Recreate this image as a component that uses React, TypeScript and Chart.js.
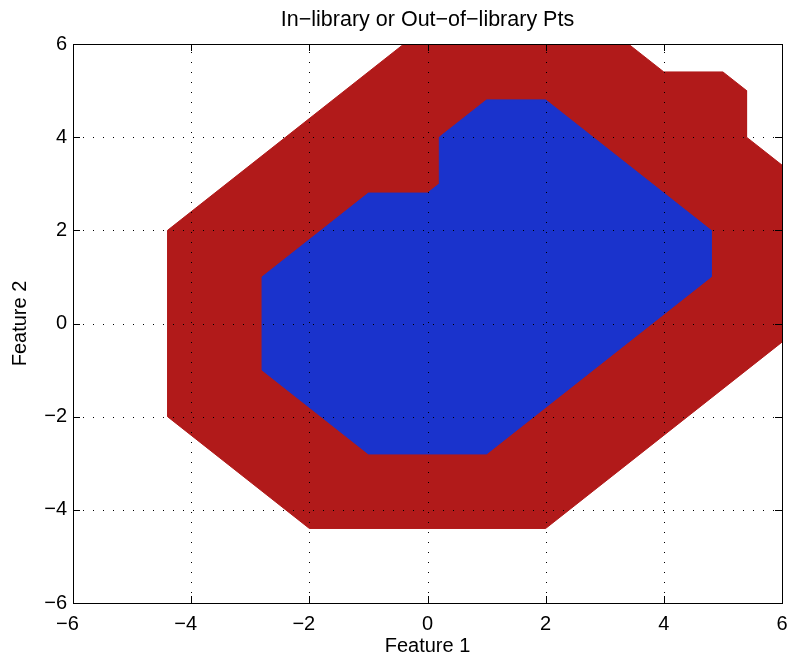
import React, { useEffect, useRef } from 'react';
import { Chart, registerables } from 'chart.js';

Chart.register(...registerables);

const chartTitle = 'In\u2212library or Out\u2212of\u2212library Pts';
const xLabel = 'Feature 1';
const yLabel = 'Feature 2';
const axisMin = -6;
const axisMax = 6;
const tickStep = 2;

// Out-of-library region (red) polygon vertices
const outOfLibraryX = [-4.4, -0.4, 3.4, 4.0, 5.0, 5.4, 5.4, 6.0, 6.0, 2.0, -2.0, -4.4];
const outOfLibraryY = [2.0, 6.0, 6.0, 5.4, 5.4, 5.0, 4.0, 3.4, -0.4, -4.4, -4.4, -2.0];

// In-library region (blue) polygon vertices
const inLibraryX = [-2.8, -1.0, 0.0, 0.2, 0.2, 1.0, 2.0, 4.8, 4.8, 1.0, -1.0, -2.8];
const inLibraryY = [1.0, 2.8, 2.8, 3.0, 4.0, 4.8, 4.8, 2.0, 1.0, -2.8, -2.8, -1.0];

const RED = '#B11A1A';
const BLUE = '#1A33CC';
const FONT = "'Liberation Sans', Arial, Helvetica, sans-serif";

function toPoints(xs: number[], ys: number[]) {
  const pts = xs.map((x, i) => ({ x, y: ys[i] }));
  pts.push({ x: xs[0], y: ys[0] });
  return pts;
}

function fmtY(v: number | string) {
  const n = Number(v);
  return n < 0 ? '\u2212' + Math.abs(n) : String(n);
}

// MATLAB centres the digits under the tick and lets the minus sign hang left
function fmtX(v: number | string) {
  const n = Number(v);
  return n < 0 ? '\u2212' + Math.abs(n) + '  ' : String(n);
}

const boxPlugin = {
  id: 'matlabBox',
  afterDraw(chart: any) {
    const { ctx, chartArea } = chart;
    const left = Math.round(chartArea.left);
    const right = Math.round(chartArea.right);
    const top = Math.round(chartArea.top);
    const bottom = Math.round(chartArea.bottom);
    const xs = chart.scales.x;
    const ys = chart.scales.y;
    const tl = 7;
    ctx.save();
    // dotted grid over the filled regions
    ctx.strokeStyle = '#000';
    ctx.lineWidth = 1;
    ctx.lineCap = 'butt';
    ctx.setLineDash([1, 9]);
    ctx.lineDashOffset = 0;
    xs.ticks.forEach((t: any) => {
      const p = Math.round(xs.getPixelForValue(t.value)) + 0.5;
      if (p <= left + 1 || p >= right - 1) return;
      ctx.beginPath();
      ctx.moveTo(p, bottom);
      ctx.lineTo(p, top);
      ctx.stroke();
    });
    ys.ticks.forEach((t: any) => {
      const p = Math.round(ys.getPixelForValue(t.value)) + 0.5;
      if (p <= top + 1 || p >= bottom - 1) return;
      ctx.beginPath();
      ctx.moveTo(left, p);
      ctx.lineTo(right, p);
      ctx.stroke();
    });
    ctx.setLineDash([]);
    // inward tick marks on all four sides
    ctx.beginPath();
    xs.ticks.forEach((t: any) => {
      const p = Math.round(xs.getPixelForValue(t.value)) + 0.5;
      ctx.moveTo(p, bottom);
      ctx.lineTo(p, bottom - tl);
      ctx.moveTo(p, top);
      ctx.lineTo(p, top + tl);
    });
    ys.ticks.forEach((t: any) => {
      const p = Math.round(ys.getPixelForValue(t.value)) + 0.5;
      ctx.moveTo(left, p);
      ctx.lineTo(left + tl, p);
      ctx.moveTo(right, p);
      ctx.lineTo(right - tl, p);
    });
    ctx.stroke();
    ctx.strokeRect(left + 0.5, top + 0.5, right - left, bottom - top);
    // title centred over the plot area
    ctx.fillStyle = '#000';
    ctx.font = `normal 21.5px ${FONT}`;
    ctx.textAlign = 'center';
    ctx.textBaseline = 'middle';
    ctx.fillText(chartTitle, (chartArea.left + chartArea.right) / 2, 20);
    ctx.restore();
  },
};

export default function App() {
  const ref = useRef<HTMLCanvasElement | null>(null);
  useEffect(() => {
    if (!ref.current) return;
    const chart = new Chart(ref.current, {
      type: 'scatter',
      data: {
        datasets: [
          {
            label: 'In-library',
            data: toPoints(inLibraryX, inLibraryY),
            showLine: true,
            fill: 'shape',
            backgroundColor: BLUE,
            borderColor: BLUE,
            borderWidth: 1,
            pointRadius: 0,
            order: 0,
          },
          {
            label: 'Out-of-library',
            data: toPoints(outOfLibraryX, outOfLibraryY),
            showLine: true,
            fill: 'shape',
            backgroundColor: RED,
            borderColor: RED,
            borderWidth: 1,
            pointRadius: 0,
            order: 1,
          },
        ],
      },
      options: {
        animation: false,
        responsive: true,
        maintainAspectRatio: false,
        layout: { padding: { left: 0, right: 6, top: 44, bottom: 0 } },
        plugins: {
          legend: { display: false },
          tooltip: { enabled: false },
          title: { display: false },
        },
        scales: {
          x: {
            type: 'linear',
            min: axisMin,
            max: axisMax,
            afterFit: (s: any) => {
              s.height = 56;
              s.paddingLeft = 0;
              s.paddingRight = 0;
            },
            ticks: {
              stepSize: tickStep,
              color: '#000',
              padding: 9,
              font: { family: FONT, size: 20 },
              callback: (v: any) => fmtX(v),
            },
            grid: { display: false, drawTicks: false },
            border: { display: false },
            title: {
              display: true,
              text: xLabel,
              color: '#000',
              font: { family: FONT, size: 20 },
              padding: { top: 0, bottom: 1 },
            },
          },
          y: {
            type: 'linear',
            min: axisMin,
            max: axisMax,
            afterFit: (s: any) => {
              s.width = 73;
              s.paddingTop = 0;
              s.paddingBottom = 0;
            },
            ticks: {
              stepSize: tickStep,
              color: '#000',
              padding: 6,
              font: { family: FONT, size: 20 },
              callback: (v: any) => fmtY(v),
            },
            grid: { display: false, drawTicks: false },
            border: { display: false },
            title: {
              display: true,
              text: yLabel,
              color: '#000',
              font: { family: FONT, size: 20 },
              padding: { top: 8, bottom: 0 },
            },
          },
        },
      },
      plugins: [boxPlugin],
    });
    return () => chart.destroy();
  }, []);
  return (
    <div style={{ position: 'absolute', left: 0, top: 0, width: 788, height: 659 }}>
      <canvas ref={ref} />
    </div>
  );
}
